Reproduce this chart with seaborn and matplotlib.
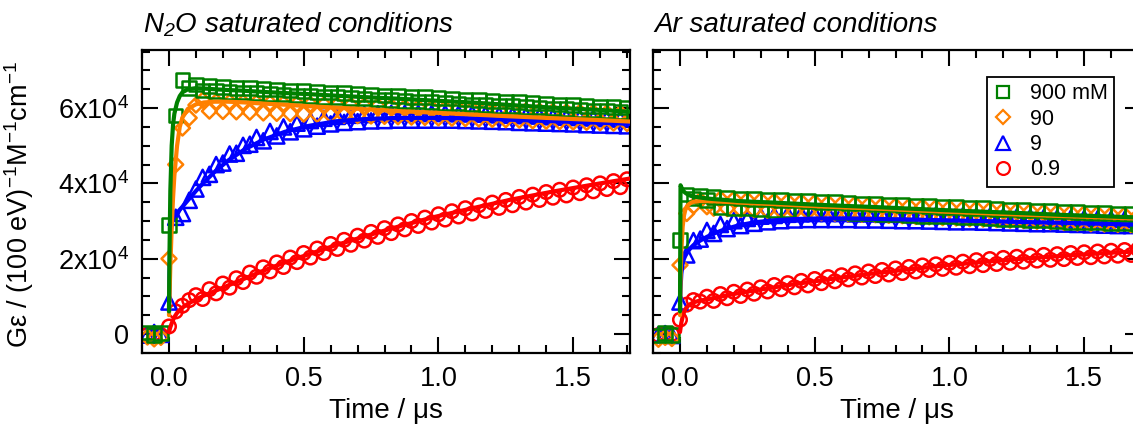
import numpy as np
import pandas as pd
import matplotlib
matplotlib.use("Agg")
import matplotlib.pyplot as plt
import seaborn as sns
from matplotlib.lines import Line2D
from matplotlib.ticker import MultipleLocator, FixedLocator, FixedFormatter

# ---------------- data (values in units of 1e3) ----------------
time_us = [-0.08, -0.055, -0.03, 0.0, 0.025, 0.05, 0.075, 0.1, 0.125, 0.15,
           0.175, 0.2, 0.225, 0.25, 0.275, 0.3, 0.325, 0.35, 0.375, 0.4,
           0.425, 0.45, 0.475, 0.5, 0.525, 0.55, 0.575, 0.6, 0.625, 0.65,
           0.675, 0.7, 0.725, 0.75, 0.775, 0.8, 0.825, 0.85, 0.875, 0.9,
           0.925, 0.95, 0.975, 1.0, 1.025, 1.05, 1.075, 1.1, 1.125, 1.15,
           1.175, 1.2, 1.225, 1.25, 1.275, 1.3, 1.325, 1.35, 1.375, 1.4,
           1.425, 1.45, 1.475, 1.5, 1.525, 1.55, 1.575, 1.6, 1.625, 1.65,
           1.675, 1.7]

n2o_900 = [0.4, -0.2, 0.3, 29.0, 58.0, 67.5, 65.4, 66.3, 64.7, 65.8,
           64.5, 65.6, 64.3, 65.4, 64.2, 65.3, 64.0, 65.1, 63.8, 64.9,
           63.6, 64.7, 63.4, 64.5, 63.2, 64.3, 63.0, 64.1, 62.9, 64.0,
           62.7, 63.8, 62.5, 63.6, 62.3, 63.4, 62.1, 63.2, 61.9, 63.0,
           61.7, 62.9, 61.6, 62.7, 61.4, 62.5, 61.2, 62.3, 61.0, 62.1,
           60.8, 61.9, 60.6, 61.7, 60.5, 61.6, 60.3, 61.4, 60.1, 61.2,
           59.9, 61.0, 59.7, 60.8, 59.5, 60.6, 59.3, 60.4, 59.2, 60.3,
           59.0, 60.1]
n2o_90 = [-0.8, -1.3, -0.9, 20.0, 45.0, 54.7, 57.4, 60.8, 62.1, 59.2,
          61.7, 59.1, 61.6, 59.0, 61.5, 58.9, 61.4, 58.7, 61.3, 58.6,
          61.2, 58.5, 61.1, 58.4, 61.0, 58.3, 60.9, 58.2, 60.8, 58.1,
          60.7, 58.0, 60.6, 57.9, 60.5, 57.8, 60.4, 57.7, 60.2, 57.6,
          60.1, 57.5, 60.0, 57.4, 59.9, 57.3, 59.8, 57.2, 59.7, 57.1,
          59.6, 57.0, 59.5, 56.9, 59.4, 56.8, 59.3, 56.6, 59.2, 56.5,
          59.1, 56.4, 59.0, 56.3, 58.9, 56.2, 58.8, 56.1, 58.7, 56.0,
          58.6, 55.9]
n2o_9 = [-0.3, 0.4, -0.1, 8.5, 31.0, 32.0, 35.5, 38.5, 41.6, 42.4,
         45.0, 45.4, 47.8, 48.0, 50.1, 50.4, 52.2, 51.3, 53.8, 52.6,
         55.0, 53.7, 56.0, 54.5, 56.7, 55.2, 57.3, 55.8, 57.8, 56.2,
         58.1, 56.4, 58.3, 56.6, 58.5, 56.7, 58.6, 56.8, 58.6, 56.8,
         58.6, 56.8, 58.6, 56.8, 58.6, 56.8, 58.5, 56.7, 58.5, 56.6,
         58.4, 56.5, 58.2, 56.4, 58.1, 56.2, 58.0, 56.1, 57.9, 56.0,
         57.7, 55.9, 57.6, 55.8, 57.5, 55.6, 57.4, 55.5, 57.2, 55.4,
         57.1, 55.3]
n2o_09 = [-0.2, 0.1, -0.3, 2.0, 6.0, 7.5, 9.0, 10.3, 9.3, 11.9,
          10.8, 13.4, 12.3, 14.8, 13.8, 16.3, 15.2, 17.7, 16.6, 19.0,
          17.8, 20.3, 19.1, 21.5, 20.3, 22.7, 21.5, 23.9, 22.6, 25.0,
          23.7, 26.1, 24.8, 27.1, 25.8, 28.1, 26.8, 29.1, 27.8, 30.0,
          28.7, 30.9, 29.6, 31.8, 30.4, 32.6, 31.2, 33.4, 32.0, 34.2,
          32.7, 34.9, 33.5, 35.6, 34.2, 36.4, 34.9, 37.0, 35.6, 37.7,
          36.2, 38.3, 36.8, 38.9, 37.4, 39.5, 37.9, 40.0, 38.5, 40.6,
          39.0, 41.1]

ar_900 = [-0.4, 0.2, -0.2, 25.0, 37.0, 36.0, 36.8, 35.6, 36.4, 33.7,
          36.2, 33.5, 36.0, 33.3, 35.9, 33.2, 35.7, 33.0, 35.6, 32.9,
          35.4, 32.7, 35.3, 32.6, 35.1, 32.5, 35.0, 32.3, 34.8, 32.2,
          34.7, 32.0, 34.5, 31.9, 34.4, 31.7, 34.3, 31.6, 34.1, 31.4,
          34.0, 31.3, 33.8, 31.2, 33.7, 31.0, 33.5, 30.9, 33.4, 30.7,
          33.2, 30.6, 33.1, 30.4, 33.0, 30.3, 32.8, 30.1, 32.7, 30.0,
          32.5, 29.8, 32.4, 29.7, 32.2, 29.6, 32.1, 29.4, 31.9, 29.3,
          31.8, 29.1]
ar_90 = [-1.4, -0.9, -1.2, 18.3, 32.0, 34.0, 35.5, 33.8, 33.4, 35.9,
         33.3, 35.8, 33.1, 35.6, 33.0, 35.5, 32.8, 35.3, 32.7, 35.2,
         32.5, 35.1, 32.4, 34.9, 32.2, 34.8, 32.1, 34.6, 31.9, 34.5,
         31.8, 34.3, 31.7, 34.2, 31.5, 34.0, 31.4, 33.9, 31.2, 33.8,
         31.1, 33.6, 30.9, 33.5, 30.8, 33.3, 30.6, 33.2, 30.5, 33.0,
         30.4, 32.9, 30.2, 32.7, 30.1, 32.6, 29.9, 32.4, 29.8, 32.3,
         29.6, 32.2, 29.5, 32.0, 29.3, 31.9, 29.2, 31.7, 29.1, 31.6,
         28.9, 31.4]
ar_9 = [-0.2, 0.1, -0.4, 8.5, 21.0, 24.8, 25.2, 27.5, 26.7, 29.1,
        28.0, 30.1, 28.8, 30.7, 29.4, 31.3, 29.8, 31.5, 30.1, 31.8,
        30.3, 31.9, 30.4, 32.0, 30.4, 32.0, 30.4, 32.0, 30.4, 31.9,
        30.3, 31.9, 30.3, 31.8, 30.2, 31.8, 30.1, 31.7, 30.1, 31.6,
        30.0, 31.6, 29.9, 31.5, 29.8, 31.4, 29.8, 31.3, 29.7, 31.2,
        29.6, 31.2, 29.5, 31.1, 29.4, 31.0, 29.3, 30.9, 29.3, 30.8,
        29.2, 30.7, 29.1, 30.7, 29.0, 30.6, 28.9, 30.5, 28.8, 30.4,
        28.8, 30.3]
ar_09 = [-0.3, 0.1, 0.0, 3.8, 7.8, 9.0, 8.6, 9.9, 8.8, 10.6,
         9.5, 11.2, 10.1, 11.8, 10.7, 12.4, 11.3, 13.0, 11.9, 13.5,
         12.4, 14.1, 12.9, 14.6, 13.5, 15.1, 14.0, 15.6, 14.5, 16.1,
         15.0, 16.6, 15.4, 17.0, 15.8, 17.4, 16.2, 17.8, 16.6, 18.2,
         17.0, 18.5, 17.3, 18.9, 17.6, 19.2, 18.0, 19.6, 18.3, 19.9,
         18.6, 20.2, 18.9, 20.5, 19.2, 20.8, 19.5, 21.0, 19.7, 21.2,
         19.9, 21.5, 20.2, 21.7, 20.4, 21.9, 20.6, 22.1, 20.8, 22.3,
         21.0, 22.5]

fit_time_us = [0.0, 0.002, 0.005, 0.01, 0.015, 0.02, 0.03, 0.04, 0.05, 0.07,
               0.1, 0.13, 0.17, 0.22, 0.28, 0.35, 0.43, 0.52, 0.62, 0.73,
               0.85, 0.98, 1.12, 1.27, 1.43, 1.6, 1.72]
fit_n2o_900 = [6, 22, 38, 50, 55.5, 58.5, 61.5, 63.2, 64.2, 65.0, 65.3, 65.2, 65.0, 64.8,
               64.6, 64.3, 64.0, 63.7, 63.3, 62.9, 62.5, 62.0, 61.5, 60.8, 60.1, 59.5, 59.0]
fit_n2o_90 = [5, 10, 18, 28, 36, 42, 50, 55, 57.5, 59.8, 61.0, 61.5, 61.7, 61.7,
              61.5, 61.2, 60.9, 60.5, 60.1, 59.7, 59.2, 58.8, 58.3, 57.8, 57.3, 56.8, 56.4]
fit_n2o_9 = [6, 16, 26, 29.5, 30.5, 31.2, 32.2, 33.0, 33.8, 35.5, 38.0, 40.3, 43.1, 46.1,
             49.0, 51.6, 53.7, 55.3, 56.5, 57.1, 57.4, 57.4, 57.3, 56.9, 56.5, 56.1, 55.8]
fit_n2o_09 = [0.5, 1.0, 1.8, 2.8, 3.7, 4.5, 5.6, 6.4, 7.0, 8.0, 9.2, 10.2, 11.4, 12.9,
              14.7, 16.8, 19.0, 21.2, 23.6, 26.0, 28.5, 31.0, 33.3, 35.7, 37.9, 40.0, 41.4]
fit_ar_900 = [6, 39.5, 39.0, 38.3, 37.8, 37.5, 37.0, 36.7, 36.5, 36.3, 36.0, 35.8, 35.6, 35.3,
              35.1, 34.9, 34.6, 34.3, 34.0, 33.7, 33.3, 32.9, 32.5, 32.1, 31.6, 31.2, 30.9]
fit_ar_90 = [5, 14, 22, 28.5, 31.5, 33.0, 34.3, 34.8, 35.1, 35.3, 35.3, 35.25, 35.1, 34.9,
             34.7, 34.5, 34.2, 33.9, 33.6, 33.3, 32.9, 32.5, 32.1, 31.7, 31.3, 30.9, 30.6]
fit_ar_9 = [6, 12, 16, 18.8, 20.0, 20.8, 22.0, 22.9, 23.6, 24.6, 25.8, 26.8, 27.9, 28.9,
            29.7, 30.2, 30.55, 30.7, 30.7, 30.55, 30.4, 30.2, 30.0, 29.75, 29.5, 29.2, 29.0]
fit_ar_09 = [0.5, 1.5, 3.0, 4.6, 5.8, 6.6, 7.5, 8.0, 8.4, 8.8, 9.2, 9.6, 10.2, 10.9,
             11.6, 12.4, 13.3, 14.2, 15.2, 16.2, 17.2, 18.2, 19.1, 20.0, 20.8, 21.6, 22.0]

value_scale = 1000.0
series_labels = ["900 mM", "90", "9", "0.9"]
panel_titles = ["N$_2$O saturated conditions", "Ar saturated conditions"]
xticks = [0.0, 0.5, 1.0, 1.5]
xtick_labels = ["0.0", "0.5", "1.0", "1.5"]
yticks = [0, 20000, 40000, 60000]
ytick_labels = ["0", "2x10$^4$", "4x10$^4$", "6x10$^4$"]
x_label = "Time / \u03bcs"
y_label = "G\u03b5 / (100 eV)$^{-1}$M$^{-1}$cm$^{-1}$"

# ---------------- styling ----------------
colors = ["#008000", "#FF8000", "#0000FF", "#FF0000"]
markers = ["s", "D", "^", "o"]
marker_area = [95, 58, 120, 95]

sns.set_theme(style="ticks")
plt.rcParams["font.family"] = ["Liberation Sans", "DejaVu Sans"]
plt.rcParams["mathtext.fontset"] = "custom"
plt.rcParams["mathtext.rm"] = "Liberation Sans"
plt.rcParams["mathtext.it"] = "Liberation Sans:italic"
plt.rcParams["mathtext.default"] = "regular"
for key in ["text.color", "axes.labelcolor", "xtick.color", "ytick.color", "axes.edgecolor"]:
    plt.rcParams[key] = "black"

W, H = 1133, 426
fig = plt.figure(figsize=(W / 100, H / 100), dpi=100)
ax_l = fig.add_axes([141.5 / W, (H - 353) / H, 488.5 / W, 303 / H])
ax_r = fig.add_axes([652.5 / W, (H - 353) / H, 488.5 / W, 303 / H])

panels = [
    (ax_l, [n2o_900, n2o_90, n2o_9, n2o_09], [fit_n2o_900, fit_n2o_90, fit_n2o_9, fit_n2o_09]),
    (ax_r, [ar_900, ar_90, ar_9, ar_09], [fit_ar_900, fit_ar_90, fit_ar_9, fit_ar_09]),
]

FS = 19.5
for pi, (ax, data_sets, fit_sets) in enumerate(panels):
    for i in reversed(range(4)):
        df = pd.DataFrame({"t": time_us, "v": np.asarray(data_sets[i]) * value_scale})
        sns.scatterplot(data=df, x="t", y="v", ax=ax, marker=markers[i], s=marker_area[i],
                        color=colors[i], facecolor="none", edgecolor=colors[i],
                        linewidth=1.8, zorder=2 + (3 - i) * 0.1, legend=False)
    for i in reversed(range(4)):
        dff = pd.DataFrame({"t": fit_time_us, "v": np.asarray(fit_sets[i]) * value_scale})
        sns.lineplot(data=dff, x="t", y="v", ax=ax, color=colors[i], linewidth=3.0,
                     estimator=None, sort=False, zorder=3 + (3 - i) * 0.1, legend=False)

    ax.set_xlim(-0.102, 1.711)
    ax.set_ylim(-5050, 75430)
    ax.xaxis.set_major_locator(FixedLocator(xticks))
    ax.xaxis.set_major_formatter(FixedFormatter(xtick_labels))
    ax.xaxis.set_minor_locator(MultipleLocator(0.1))
    ax.yaxis.set_major_locator(FixedLocator(yticks))
    ax.yaxis.set_minor_locator(MultipleLocator(5000))
    if pi == 0:
        ax.yaxis.set_major_formatter(FixedFormatter(ytick_labels))
        ax.set_ylabel(y_label, fontsize=FS)
        ax.yaxis.set_label_coords(-0.215, 0.49)
    else:
        ax.set_yticklabels([])
        ax.set_ylabel("")
    ax.set_xlabel(x_label, fontsize=20, labelpad=5)
    ax.tick_params(which="both", direction="in", top=True, right=True,
                   width=1.5, color="black", labelsize=FS, labelcolor="black")
    ax.tick_params(which="major", length=11.5, pad=9)
    ax.tick_params(which="minor", length=6)
    for sp in ax.spines.values():
        sp.set_linewidth(1.6)
        sp.set_color("black")
        sp.set_visible(True)
    ax.text(0.004, 1.058, panel_titles[pi], transform=ax.transAxes, fontsize=20,
            style="italic", ha="left", va="baseline", color="black")

handles = [Line2D([], [], linestyle="none", marker=markers[i],
                  markersize=np.sqrt(marker_area[i]) * 0.95,
                  markerfacecolor="none", markeredgecolor=colors[i], markeredgewidth=1.6)
           for i in range(4)]
leg = fig.legend(handles, series_labels, loc="upper right",
                 bbox_to_anchor=(1114 / W, (H - 77) / H), bbox_transform=fig.transFigure,
                 frameon=True, fancybox=False, framealpha=1, edgecolor="black",
                 fontsize=15.5, handlelength=0.9, handletextpad=0.8, borderpad=0.3,
                 labelspacing=0.2, borderaxespad=0)
leg.get_frame().set_linewidth(1.3)
for txt in leg.get_texts():
    txt.set_color("black")

fig.savefig("out.png", dpi=100)
